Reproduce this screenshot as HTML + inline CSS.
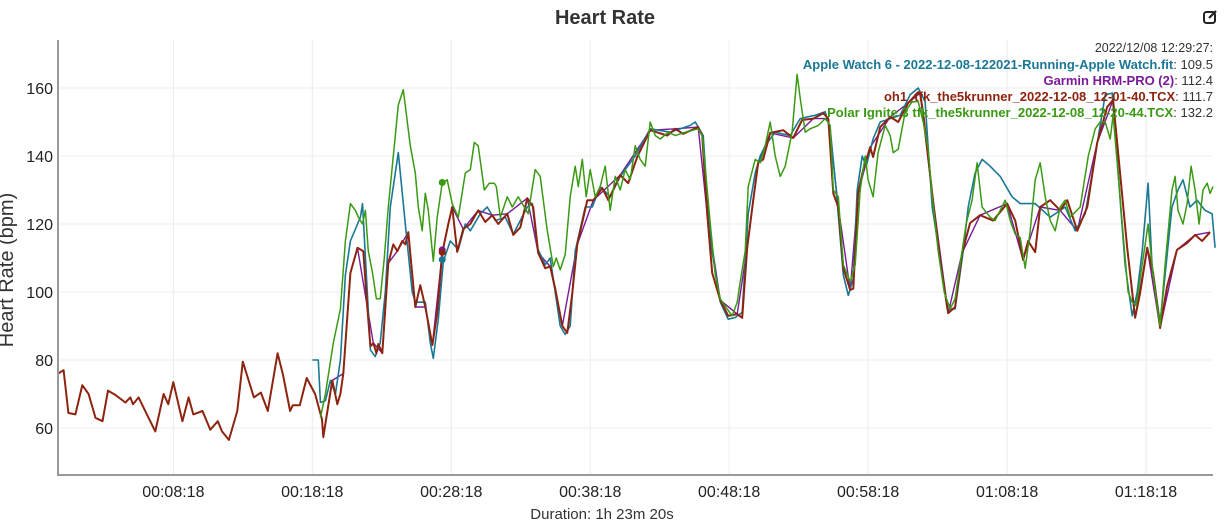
<!DOCTYPE html>
<html><head><meta charset="utf-8">
<style>
html,body{margin:0;padding:0;background:#fff;}
body{width:1227px;height:527px;overflow:hidden;font-family:"Liberation Sans",Arial,sans-serif;}
svg text{font-family:"Liberation Sans",Arial,sans-serif;}
</style></head>
<body>
<svg id="chart" width="1227" height="527" viewBox="0 0 1227 527" xmlns="http://www.w3.org/2000/svg">
<text x="605" y="24" text-anchor="middle" font-size="20" font-weight="bold" fill="#333">Heart Rate</text>
<g transform="translate(1203,9)">
<rect x="1" y="3" width="11" height="11" rx="2.5" fill="none" stroke="#222" stroke-width="2"/>
<path d="M6 9 L13 2" stroke="#222" stroke-width="2.2"/>
</g>
<g id="grid"></g>
<g id="series"></g>
<g id="axes"></g>
<text x="602" y="519" text-anchor="middle" font-size="15" fill="#333">Duration: 1h 23m 20s</text>
<text transform="translate(13,270) rotate(-90)" text-anchor="middle" font-size="20" fill="#333">Heart Rate (bpm)</text>
<g font-size="13" text-anchor="end">
<text x="1213" y="52" fill="#333" font-size="12.5">2022/12/08 12:29:27:</text>
<text x="1213" y="69"><tspan fill="#1a7896" font-weight="bold">Apple Watch 6 - 2022-12-08-122021-Running-Apple Watch.fit</tspan><tspan fill="#333">: 109.5</tspan></text>
<text x="1213" y="85"><tspan fill="#7a1a9a" font-weight="bold">Garmin HRM-PRO (2)</tspan><tspan fill="#333">: 112.4</tspan></text>
<text x="1213" y="101"><tspan fill="#8e2410" font-weight="bold">oh1_tfk_the5krunner_2022-12-08_12-01-40.TCX</tspan><tspan fill="#333">: 111.7</tspan></text>
<text x="1213" y="117"><tspan fill="#3a9a14" font-weight="bold">Polar Ignite 3 tfk_the5krunner_2022-12-08_12-20-44.TCX</tspan><tspan fill="#333">: 132.2</tspan></text>
</g>
</svg>
<script>
const xTickMinutes=[8.3,18.3,28.3,38.3,48.3,58.3,68.3,78.3];
const xTickLabels=["00:08:18","00:18:18","00:28:18","00:38:18","00:48:18","00:58:18","01:08:18","01:18:18"];
const yTicks=[60,80,100,120,140,160];

const oh1T=[0,0.4,0.75,1.25,1.75,2.2,2.7,3.2,3.6,4.1,4.85,5.2,5.4,5.8,6.4,7.0,7.6,7.94,8.3,8.95,9.4,9.74,10.4,10.96,11.5,11.8,12.3,12.9,13.3,14.1,14.6,15.1,15.8,16.2,16.7,16.9,17.4,17.9,18.5,19.0,19.09,19.74,20.10,20.32,20.53,21.04,21.55,21.97,22.26,22.48,22.69,22.91,23.05,23.34,23.77,24.13,24.42,24.78,24.99,25.21,25.71,26.07,26.43,26.94,27.29,27.65,28.09,28.37,28.73,29.16,29.67,30.24,30.75,31.25,31.68,32.33,32.76,33.27,33.77,34.20,34.56,35.06,35.42,35.78,36.29,36.65,37.01,37.37,38.09,38.52,39.17,39.60,40.46,41.03,41.68,42.62,43.84,44.42,44.99,46.07,46.36,46.72,47.08,47.66,48.23,48.88,49.24,49.60,50.03,50.39,50.75,51.25,52.19,52.91,53.55,54.35,55.07,55.43,55.79,56.15,56.51,57.01,57.23,57.58,57.94,58.45,58.66,59.17,59.89,60.46,61.18,61.90,62.04,62.26,62.91,63.48,64.06,64.56,65.06,65.64,66.36,67.29,68.30,68.88,69.45,69.81,70.32,70.68,71.40,72.12,72.63,73.35,74.07,74.78,75.50,75.93,76.29,76.94,77.51,77.87,78.38,78.81,79.31,79.81,80.53,81.25,81.83,82.33,82.91];
const oh1V=[76,77,64.4,64,72.6,70,63,62,71,69.8,67.5,69,67,69,64,59,70,67,73.5,62,69,64,65,59.5,62,59,56.5,65,79.5,69,70.4,65,82,75.5,65,66.7,66.7,74.7,70,62.5,57.4,74,67,70,76,105.6,113,112,95.6,84,85,82,84.7,82,108.5,114,112,115,114,117.6,95.6,102,95.6,84.4,93.8,111.5,120,125,111.8,118.5,120,124,120.6,122.6,120,123,116.8,119,127.6,125,111.5,107,107.5,101,90,88,99.7,114,127,127,130.6,127,134.4,132,139.7,147.6,146,148,146.5,148.5,146,123,105.6,97.6,93,93.5,92.4,113,127,138,139,146.8,147.6,145.3,150.6,151,152.6,151,129,125,107,100.6,101,129,135.9,142.6,139.7,148.5,151.5,150,155.6,158.8,158.5,152.6,129,109.4,93.8,95.6,111.5,120.3,122.6,121,126,121,109.4,115,111.7,125,127,124,127,118,125,143.8,154.4,156.5,141,113,92.4,99.7,113,105.6,89.4,101.5,112.4,114.4,116.8,115,117.6];

const garminT=[19.09,19.74,20.53,21.04,21.55,22.26,22.69,23.34,23.77,24.42,25.21,25.71,26.43,26.94,27.65,28.37,29.16,30.24,31.25,32.33,33.77,34.56,35.42,36.29,37.37,38.52,40.46,42.62,44.42,46.07,46.72,47.66,48.88,49.60,50.39,51.25,52.91,54.35,55.43,56.15,57.01,57.58,58.45,59.89,61.18,62.04,62.91,64.06,65.06,66.36,68.30,69.45,70.68,72.12,73.35,74.78,75.93,76.94,77.51,78.38,79.31,80.53,81.83,82.91];
const garminV=[57,74,76,105.6,113,95.6,85,82,108.5,112,117.6,95.6,95.6,84.4,111.5,125,118.5,124,122.6,123,127.6,111.5,107.5,90,114,127,134.4,147.6,148,148.5,123,97.6,93.5,113,138,146.8,145.3,151,151,125,100.6,129,142.6,151.5,155.6,158.5,129,93.8,111.5,122.6,126,109.4,125,124,118,143.8,156.5,113,92.4,113,89.4,112.4,116.8,117.6];

const appleT=[18.30,18.73,18.88,19.24,19.60,19.96,20.32,20.68,21.04,21.76,21.91,22.26,22.48,22.83,23.19,23.55,23.91,24.27,24.49,24.99,25.49,25.71,26.43,26.79,27.01,27.37,27.73,28.23,28.81,29.31,29.67,30.39,30.89,31.47,32.19,32.76,33.27,33.77,34.13,34.49,35.06,35.42,35.78,36.14,36.50,36.86,37.22,37.94,38.45,39.02,39.74,40.46,41.54,42.62,44.06,45.50,45.86,46.43,46.94,47.66,48.23,48.73,49.24,49.67,50.17,50.53,50.89,51.61,52.69,53.41,54.49,55.21,55.57,56.00,56.51,56.87,57.23,57.51,57.87,58.16,58.66,59.17,60.61,61.32,61.90,62.40,62.91,63.48,63.99,64.56,65.14,65.50,66.00,66.50,67.08,67.80,68.66,69.24,70.32,71.40,72.48,73.20,73.92,74.64,75.36,75.86,76.29,76.79,77.30,77.66,78.02,78.45,78.73,79.31,79.67,80.17,80.60,80.96,81.46,81.97,82.55,83.05,83.27];
const appleV=[80,80,67.5,68,74,70,80,105,115,122,126,100,83,81,85,100,125,135,141,120,100,97,97,85,80.5,92,109,115,112.5,120,118,123,125,121,122,117,121,125,126,113,108,110,100,90,87.5,90,112,125,125,131,128,134,140,148,147,149,150,146,115,97,92,92.5,94,123,135,140,143,147,146,151,152,153,148,130,105,99,104,130,140,137,145,150,152,158,160,156,125,110,95,95,112,125,135,139,137,134,128,126,126,122,125,118,123,140,158,158.5,135,108,93,100,112,132,108,91,105,125,130,133,125,127,124,123,113];

const polarT=[18.88,19.24,19.81,20.32,20.68,21.04,21.40,21.62,21.91,22.12,22.33,22.62,22.91,23.19,23.48,23.77,24.13,24.49,24.85,25.35,25.71,25.93,26.21,26.43,26.65,27.01,27.29,27.65,28.01,28.37,28.81,29.31,29.67,29.96,30.24,30.68,31.04,31.40,31.54,31.83,32.33,32.69,33.12,33.41,33.84,33.99,34.34,34.70,35.21,35.64,35.86,36.14,36.50,36.86,37.22,37.44,37.73,38.01,38.30,38.66,39.02,39.38,39.74,40.10,40.46,40.82,41.18,41.54,41.90,42.26,42.62,42.98,43.34,43.91,44.42,45.14,46.07,46.36,46.94,47.30,47.66,48.16,48.52,48.88,49.09,49.45,49.67,50.17,50.53,50.89,51.25,51.61,51.97,52.33,52.83,53.19,53.41,53.77,54.13,54.71,55.21,55.57,55.79,56.15,56.51,57.01,57.37,57.73,58.09,58.30,58.66,59.02,59.53,59.89,60.10,60.46,60.97,61.47,61.90,62.26,62.62,62.91,63.34,63.77,64.20,64.56,65.06,65.35,65.78,66.14,66.50,67.08,67.44,67.80,68.16,68.52,68.88,69.24,69.60,69.96,70.32,70.68,71.04,71.40,71.76,72.12,72.48,72.84,73.56,74.14,74.64,75.00,75.36,75.72,75.93,76.29,76.65,77.01,77.30,77.58,78.02,78.45,78.73,79.09,79.31,79.67,80.17,80.39,80.60,80.96,81.25,81.54,81.83,82.12,82.40,82.70,82.91,83.12];
const polarV=[63,70,85,95,115,126,124,122,120,124,112,106,98,98,110,125,140,155,159.5,143,135,125,118,129,124,109,122,132,133,126,122,135,136,144,143,130,132,132,131,122,128,125,128,126,123,127,136,134,118,107.5,110,106.5,111,128,137,131,139,128,136,128,131,137,124,134,130,136,133,143,139,137,150,146,145,147,146,147,148,146,120,105,98,95,93,97,103,112,131,139,138,143,150,140,134,137,147,164,157,147,148,149,151,149,130,128,108,103,108,130,140,133,128,141,149,146,141,142,153,156,156,150,142,128,112,100,95,98,112,120,127,138,125,122,121,124,127,121,117,116,107,118,133,138,128,121,118,125,127,122,125,140,148,150,150,145,152,135,117,100,97,96,108,120,108,96,90,108,130,134,124,120,126,137,130,120,130,132,129,131];

const markerValues=[132.2,112.4,111.7,109.5];
const markerColors=["#3a9a14","#7a1a9a","#8e2410","#1a7896"];
const markerNames=["marker-polar","marker-garmin","marker-oh1","marker-apple"];
const markerMinute=27.65;

const NS="http://www.w3.org/2000/svg";
const L=58,R=1216,T=40,B=475;
function xs(m){return L+(m/83.333)*(R-L);}
function ys(v){return 428-(v-60)*3.4;}
function mk(tag,attrs,parent){const e=document.createElementNS(NS,tag);for(const k in attrs)e.setAttribute(k,attrs[k]);parent.appendChild(e);return e;}

const grid=document.getElementById('grid');
yTicks.forEach(v=>{
  const l=mk('line',{x1:L,x2:1213,y1:ys(v),y2:ys(v),stroke:'#ececec','stroke-width':1},grid);
  
  
  const t=mk('text',{x:L-5,y:ys(v)+6,'text-anchor':'end','font-size':16,fill:'#222'},grid);
  t.textContent=v;
  
  
});
xTickMinutes.forEach((m,i)=>{
  const l=mk('line',{x1:xs(m),x2:xs(m),y1:T,y2:B,stroke:'#ececec','stroke-width':1},grid);
  
  
  const t=mk('text',{x:xs(m),y:497,'text-anchor':'middle','font-size':16,fill:'#222'},grid);
  t.textContent=xTickLabels[i];
  
  
});
const axes=document.getElementById('axes');
const ya=mk('line',{x1:L,x2:L,y1:T,y2:B,stroke:'#999','stroke-width':2},axes);


const xa=mk('line',{x1:L-1,x2:1213,y1:B,y2:B,stroke:'#999','stroke-width':2},axes);



const ser=document.getElementById('series');
function path(T_,V_){return T_.map((t,i)=>(i?'L':'M')+xs(t).toFixed(1)+' '+ys(V_[i]).toFixed(1)).join(' ');}
const pg=mk('path',{d:path(garminT,garminV),fill:'none',stroke:'#7a1a9a','stroke-width':1.4,'stroke-linejoin':'round'},ser);


const pa=mk('path',{d:path(appleT,appleV),fill:'none',stroke:'#1a7896','stroke-width':1.6,'stroke-linejoin':'round'},ser);


const po=mk('path',{d:path(oh1T,oh1V),fill:'none',stroke:'#8e2410','stroke-width':2,'stroke-linejoin':'round'},ser);


const pp=mk('path',{d:path(polarT,polarV),fill:'none',stroke:'#3a9a14','stroke-width':1.5,'stroke-linejoin':'round'},ser);


markerValues.forEach((v,i)=>{
  const c=mk('circle',{cx:xs(markerMinute),cy:ys(v),r:3.5,fill:markerColors[i]},ser);
  
  
});
</script>
</body></html>
